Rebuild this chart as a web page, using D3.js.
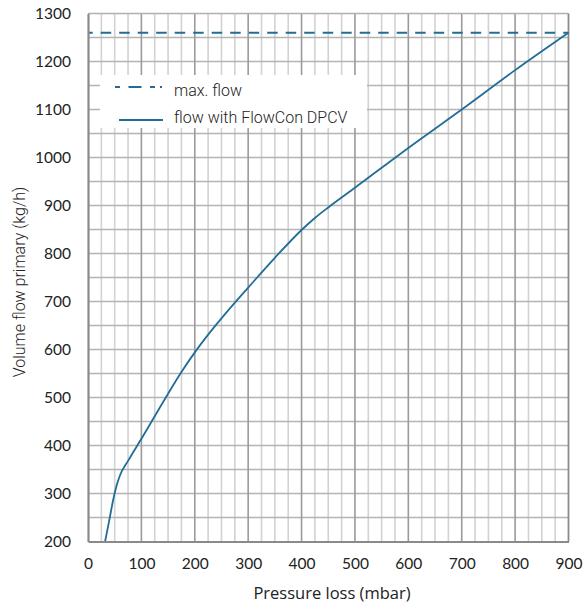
<!DOCTYPE html>
<html>
<head>
<meta charset="utf-8">
<script src="https://cdn.jsdelivr.net/npm/d3@7"></script>
<style>
html,body{margin:0;padding:0;background:#fff;}
svg{display:block;}
</style>
</head>
<body>
<svg id="chart" width="586" height="607"></svg>
<script>
// Data
const pressureLoss = [32, 40, 47, 54, 60, 75, 100, 150, 175, 200, 225, 250, 300, 350, 400, 425, 450, 500, 600, 700, 800, 900];
const flowDPCV     = [200, 245, 286, 318, 338, 368, 414, 508, 553, 594, 631, 665, 729, 791, 849, 874, 896, 937, 1020, 1100, 1182, 1260];
const maxFlow = 1260;
const xTicks = [0, 100, 200, 300, 400, 500, 600, 700, 800, 900];
const yTicks = [200, 300, 400, 500, 600, 700, 800, 900, 1000, 1100, 1200, 1300];
const legendLabels = ["max. flow", "flow with FlowCon DPCV"];
const xTitle = "Pressure loss (mbar)";
const yTitle = "Volume flow primary (kg/h)";

const svg = d3.select("#chart");
const L = 88, R = 568.5, T = 13.5, B = 541.5;
const x = d3.scaleLinear().domain([0, 900]).range([L, R]);
const y = d3.scaleLinear().domain([200, 1300]).range([B, T]);
const lineColor = "#216d97";

// grid
const g = svg.append("g");
const minorX = d3.range(25, 900, 25).filter(v => v % 100 !== 0);
const majorX = d3.range(100, 900, 100);
const hY = d3.range(250, 1300, 50);

g.selectAll(".mx").data(minorX).enter().append("line")
  .attr("x1", d => x(d)).attr("x2", d => x(d)).attr("y1", T).attr("y2", B)
  .attr("stroke", "#d2d2d2").attr("stroke-width", 1.6);
g.selectAll(".hy").data(hY).enter().append("line")
  .attr("x1", L).attr("x2", R).attr("y1", d => y(d)).attr("y2", d => y(d))
  .attr("stroke", "#b4b4b4").attr("stroke-width", 1.6);
g.selectAll(".Mx").data(majorX).enter().append("line")
  .attr("x1", d => x(d)).attr("x2", d => x(d)).attr("y1", T).attr("y2", B)
  .attr("stroke", "#9a9a9a").attr("stroke-width", 1.6);

// frame
svg.append("line").attr("x1", L).attr("x2", R).attr("y1", T).attr("y2", T)
  .attr("stroke", "#b0b0b0").attr("stroke-width", 1.6);
svg.append("line").attr("x1", R).attr("x2", R).attr("y1", T).attr("y2", B)
  .attr("stroke", "#8c8c8c").attr("stroke-width", 1.8);

// legend box (covers grid)
svg.append("rect").attr("x", 100).attr("y", 75).attr("width", 267).attr("height", 53)
  .attr("fill", "#fff");

// max flow dashed
svg.append("line").attr("x1", L).attr("x2", R).attr("y1", y(maxFlow)).attr("y2", y(maxFlow))
  .attr("stroke", lineColor).attr("stroke-width", 2)
  .attr("stroke-dasharray", "10.5,8").attr("stroke-dashoffset", 5.8);

// curve
const pts = pressureLoss.map((p, i) => [p, flowDPCV[i]]);
svg.append("path").datum(pts)
  .attr("d", d3.line().x(d => x(d[0])).y(d => y(d[1])).curve(d3.curveMonotoneX))
  .attr("fill", "none").attr("stroke", lineColor).attr("stroke-width", 1.8);

// axes
const xAxis = svg.append("g").attr("transform", `translate(0,${B})`)
  .call(d3.axisBottom(x).tickValues(xTicks).tickFormat(d3.format("d")).tickSize(0).tickPadding(16));
const yAxis = svg.append("g").attr("transform", `translate(${L},0)`)
  .call(d3.axisLeft(y).tickValues(yTicks).tickFormat(d3.format("d")).tickSize(0).tickPadding(17));
[xAxis, yAxis].forEach(a => {
  a.select(".domain").attr("stroke", "#8a8a8a").attr("stroke-width", 2.2);
  a.selectAll("text").attr("font-family", "Lato, 'Open Sans', sans-serif")
    .attr("font-size", 15.5).attr("fill", "#222");
});
xAxis.selectAll("text").attr("dy", "0.71em");

// axis titles
svg.append("text").attr("x", 332).attr("y", 599).attr("text-anchor", "middle")
  .attr("font-family", "'Open Sans', Lato, sans-serif").attr("font-size", 16.5).attr("fill", "#222")
  .text(xTitle);
svg.append("text").attr("transform", "translate(25,282) rotate(-90)").attr("text-anchor", "middle")
  .attr("font-family", "Roboto, sans-serif").attr("font-weight", 300).attr("font-size", 16).attr("fill", "#222")
  .text(yTitle);

// legend
const lg = svg.append("g").attr("font-family", "Roboto, sans-serif").attr("font-weight", 300).attr("font-size", 16).attr("fill", "#222");
lg.append("line").attr("x1", 115).attr("x2", 162).attr("y1", 87).attr("y2", 87)
  .attr("stroke", lineColor).attr("stroke-width", 2).attr("stroke-dasharray", "5,8.5,13,8.5,5");
lg.append("text").attr("x", 174).attr("y", 95.5).text(legendLabels[0]);
lg.append("line").attr("x1", 119).attr("x2", 163).attr("y1", 120).attr("y2", 120)
  .attr("stroke", lineColor).attr("stroke-width", 1.8);
lg.append("text").attr("x", 174).attr("y", 123).text(legendLabels[1]);
</script>
</body>
</html>
